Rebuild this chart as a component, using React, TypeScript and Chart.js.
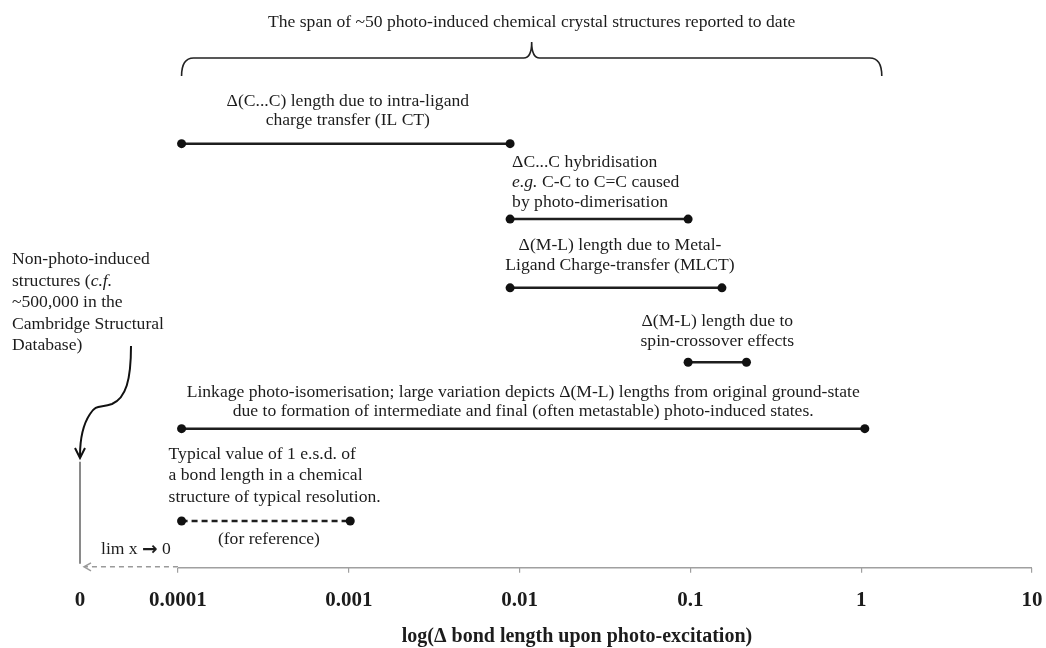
import React, { useEffect, useRef } from "react";
import { Chart, registerables } from "chart.js";

Chart.register(...registerables);

// ---- data ----
const xZero = 2.67e-5; // position of the "0" (limit) label on the log axis
const tickValues = [xZero, 1e-4, 1e-3, 1e-2, 1e-1, 1, 10];
const tickLabels = ["0", "0.0001", "0.001", "0.01", "0.1", "1", "10"];

const rangeNames = ["ILCT", "Hybridisation", "MLCT", "Spin-crossover", "Linkage", "ESD"];
const rangeStart = [1.05e-4, 0.0088, 0.0088, 0.097, 1.05e-4, 1.05e-4];
const rangeEnd = [0.0088, 0.097, 0.153, 0.213, 1.05, 0.00102];
const rangeLevel = [7.53, 6.19, 4.97, 3.65, 2.47, 0.83];
const rangeDashed = [false, false, false, false, false, true];

const braceStart = 1.05e-4;
const braceEnd = 1.32;
const braceTitle = "The span of ~50 photo-induced chemical crystal structures reported to date";
const axisTitle = "log(\u0394 bond length upon photo-excitation)";

// [text, style]: n = normal, i = italic, a = arrow glyph
type Seg = [string, string];
const labelLines: Seg[][][] = [
  [[["\u0394(C...C) length due to intra-ligand", "n"]], [["charge transfer (IL CT)", "n"]]],
  [
    [["\u0394C...C hybridisation", "n"]],
    [["e.g.", "i"], [" C-C to C=C caused", "n"]],
    [["by photo-dimerisation", "n"]],
  ],
  [[["\u0394(M-L) length due to Metal-", "n"]], [["Ligand Charge-transfer (MLCT)", "n"]]],
  [[["\u0394(M-L) length due to", "n"]], [["spin-crossover effects", "n"]]],
  [
    [["Linkage photo-isomerisation; large variation depicts \u0394(M-L) lengths from original ground-state", "n"]],
    [["due to formation of intermediate and final (often metastable) photo-induced states.", "n"]],
  ],
  [
    [["Typical value of 1 e.s.d. of", "n"]],
    [["a bond length in a chemical", "n"]],
    [["structure of typical resolution.", "n"]],
  ],
];
const labelAlign = ["center", "left", "center", "center", "center", "left"];
const labelDx = [2, 2, 4, 0, 0, -13];
const labelDy = [
  [-42, -23],
  [-57, -37, -17],
  [-42, -22],
  [-41, -21],
  [-36, -17],
  [-67, -46, -24],
];
const refNote = "(for reference)";
const limSegs: Seg[] = [["lim x ", "n"], ["\u2192", "a"], [" 0", "n"]];
const sideLines: Seg[][] = [
  [["Non-photo-induced", "n"]],
  [["structures (", "n"], ["c.f.", "i"]],
  [["~500,000 in the", "n"]],
  [["Cambridge Structural", "n"]],
  [["Database)", "n"]],
];

const SERIF = '"Liberation Serif", "Times New Roman", serif';
const TEXT = "#1c1c1c";
const FS = 17.6;

function drawRich(ctx: CanvasRenderingContext2D, segs: Seg[], x: number, y: number, align: string) {
  const fontFor = (st: string) =>
    st === "i" ? `italic ${FS}px ${SERIF}` : st === "a" ? `bold ${FS + 1}px "DejaVu Sans", sans-serif` : `${FS}px ${SERIF}`;
  let total = 0;
  const widths = segs.map(([t, st]) => {
    ctx.font = fontFor(st);
    const w = ctx.measureText(t).width;
    total += w;
    return w;
  });
  let cx = align === "center" ? x - total / 2 : x;
  ctx.textAlign = "left";
  ctx.textBaseline = "middle";
  ctx.fillStyle = TEXT;
  segs.forEach(([t, st], i) => {
    ctx.font = fontFor(st);
    ctx.fillText(t, cx, y);
    cx += widths[i];
  });
}

const annotations = {
  id: "annotations",
  afterDatasetsDraw(chart: any) {
    const ctx: CanvasRenderingContext2D = chart.ctx;
    const xs = chart.scales.x;
    const ys = chart.scales.y;
    const axisY = chart.chartArea.bottom;
    ctx.save();

    // axis line from 0.0001 to 10
    ctx.strokeStyle = "#a0a0a0";
    ctx.lineWidth = 1.5;
    ctx.beginPath();
    ctx.moveTo(xs.getPixelForValue(tickValues[1]), axisY);
    ctx.lineTo(xs.getPixelForValue(tickValues[tickValues.length - 1]), axisY);
    ctx.stroke();

    // dashed limit arrow towards 0
    const x0 = xs.getPixelForValue(xZero);
    const x1 = xs.getPixelForValue(tickValues[1]);
    ctx.setLineDash([5, 4]);
    ctx.strokeStyle = "#9a9a9a";
    ctx.beginPath();
    ctx.moveTo(x1, axisY - 1);
    ctx.lineTo(x0 + 5, axisY - 1);
    ctx.stroke();
    ctx.setLineDash([]);
    ctx.beginPath();
    ctx.moveTo(x0 + 11, axisY - 5);
    ctx.lineTo(x0 + 4, axisY - 1);
    ctx.lineTo(x0 + 11, axisY + 3);
    ctx.stroke();

    // vertical gray line at 0
    ctx.strokeStyle = "#8a8a8a";
    ctx.lineWidth = 2;
    ctx.beginPath();
    ctx.moveTo(x0, axisY - 106);
    ctx.lineTo(x0, axisY - 4);
    ctx.stroke();

    // curly arrow from side text
    ctx.strokeStyle = "#111";
    ctx.lineWidth = 2;
    ctx.beginPath();
    ctx.moveTo(x0 + 51, 346);
    ctx.bezierCurveTo(x0 + 51, 380, x0 + 46, 398, x0 + 32, 404);
    ctx.bezierCurveTo(x0 + 20, 408, x0 + 16, 404, x0 + 10, 414);
    ctx.bezierCurveTo(x0 + 2, 426, x0, 440, x0, 456);
    ctx.stroke();
    ctx.beginPath();
    ctx.moveTo(x0 - 5, 448);
    ctx.lineTo(x0, 458);
    ctx.lineTo(x0 + 5, 448);
    ctx.stroke();

    // brace
    const bl = xs.getPixelForValue(braceStart);
    const br = xs.getPixelForValue(braceEnd);
    const bm = (bl + br) / 2;
    const by = 58;
    ctx.strokeStyle = "#222";
    ctx.lineWidth = 1.6;
    ctx.beginPath();
    ctx.moveTo(bl, 76);
    ctx.quadraticCurveTo(bl, by, bl + 12, by);
    ctx.lineTo(bm - 8, by);
    ctx.quadraticCurveTo(bm, by, bm, by - 16);
    ctx.quadraticCurveTo(bm, by, bm + 8, by);
    ctx.lineTo(br - 12, by);
    ctx.quadraticCurveTo(br, by, br, 76);
    ctx.stroke();
    drawRich(ctx, [[braceTitle, "n"]], bm, 22, "center");

    // range labels
    labelLines.forEach((lines, i) => {
      const px0 = xs.getPixelForValue(rangeStart[i]);
      const px1 = xs.getPixelForValue(rangeEnd[i]);
      const py = ys.getPixelForValue(rangeLevel[i]);
      const ax = (labelAlign[i] === "center" ? (px0 + px1) / 2 : px0) + labelDx[i];
      lines.forEach((segs, j) => drawRich(ctx, segs, ax, py + labelDy[i][j], labelAlign[i]));
    });
    // (for reference)
    {
      const i = 5;
      const px0 = xs.getPixelForValue(rangeStart[i]);
      const px1 = xs.getPixelForValue(rangeEnd[i]);
      const py = ys.getPixelForValue(rangeLevel[i]);
      drawRich(ctx, [[refNote, "n"]], (px0 + px1) / 2 + 3, py + 18, "center");
    }
    drawRich(ctx, limSegs, x0 + 21, axisY - 18, "left");
    sideLines.forEach((segs, j) => drawRich(ctx, segs, 12, 259.5 + j * 21.5, "left"));

    // axis title
    ctx.font = `bold 20px ${SERIF}`;
    ctx.fillStyle = TEXT;
    ctx.textAlign = "center";
    ctx.textBaseline = "middle";
    ctx.fillText(axisTitle, (xs.left + xs.right) / 2 + 21, 637);

    ctx.restore();
  },
};

export default function App() {
  const ref = useRef<HTMLCanvasElement | null>(null);
  useEffect(() => {
    if (!ref.current) return;
    const datasets = rangeNames.map((name, i) => ({
      label: name,
      data: [
        { x: rangeStart[i], y: rangeLevel[i] },
        { x: rangeEnd[i], y: rangeLevel[i] },
      ],
      showLine: true,
      borderColor: "#1e1e1e",
      borderWidth: 2.5,
      borderDash: rangeDashed[i] ? [6, 4] : [],
      pointRadius: 4.5,
      pointBackgroundColor: "#111",
      pointBorderWidth: 0,
      pointHoverRadius: 4.5,
    }));
    const chart = new Chart(ref.current, {
      type: "scatter",
      data: { datasets },
      plugins: [annotations],
      options: {
        animation: false,
        responsive: false,
        devicePixelRatio: 1,
        layout: { padding: { left: 80, right: 14, top: 0, bottom: 20 } },
        plugins: { legend: { display: false }, tooltip: { enabled: false } },
        scales: {
          x: {
            type: "logarithmic",
            min: xZero,
            max: 10,
            afterBuildTicks: (scale: any) => {
              scale.ticks = tickValues.map((v) => ({ value: v }));
            },
            afterFit: (scale: any) => {
              scale.paddingLeft = 0;
              scale.paddingRight = 0;
            },
            border: { display: false },
            grid: {
              drawOnChartArea: false,
              drawTicks: true,
              tickLength: 5,
              lineWidth: 1.2,
              color: (c: any) => (c.index === 0 ? "rgba(0,0,0,0)" : "#a0a0a0"),
            },
            ticks: {
              autoSkip: false,
              maxRotation: 0,
              padding: 15,
              color: TEXT,
              font: { family: SERIF, size: 21, weight: "bold" },
              callback: (_v: any, idx: number) => tickLabels[idx],
            },
            title: { display: false },
          },
          y: { type: "linear", min: 0, max: 10, display: false },
        },
      },
    } as any);
    return () => chart.destroy();
  }, []);
  return (
    <div style={{ position: "absolute", left: 0, top: 0, width: 1046, height: 648, background: "#fff" }}>
      <canvas ref={ref} width={1046} height={648} />
    </div>
  );
}
